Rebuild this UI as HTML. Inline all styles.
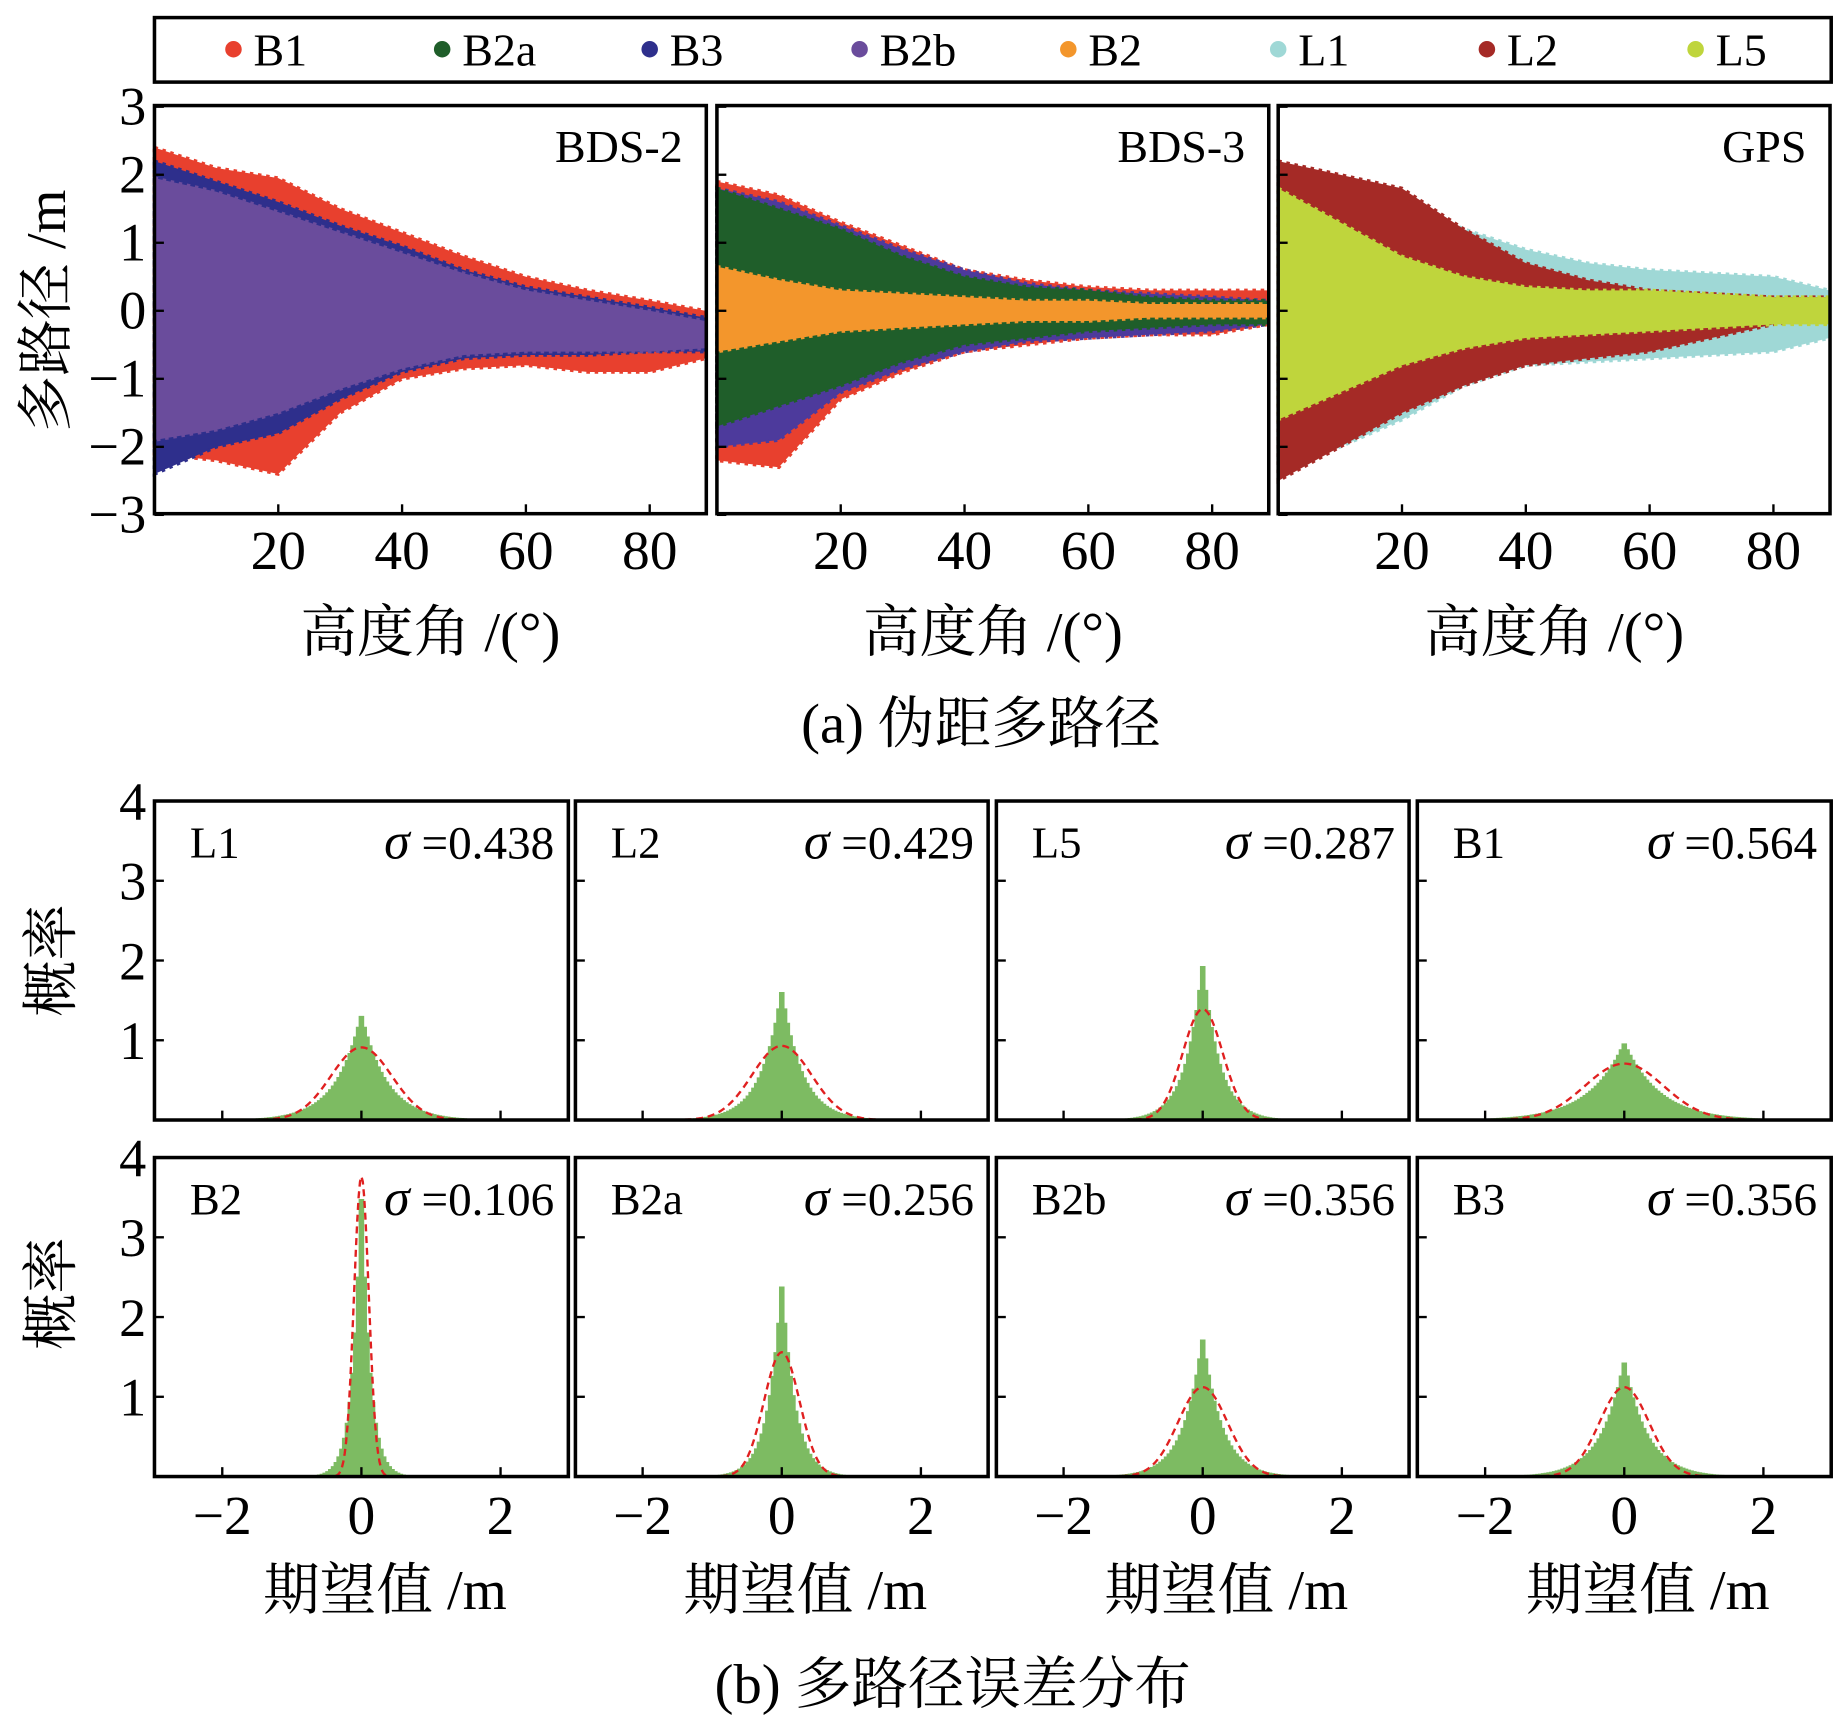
<!DOCTYPE html>
<html><head><meta charset="utf-8"><style>
html,body{margin:0;padding:0;background:#fff;}
svg{display:block;font-family:"Liberation Serif","Noto Serif CJK SC",serif;}
</style></head><body>
<svg id="fig" width="1843" height="1724" viewBox="0 0 1563 1470" preserveAspectRatio="none" xmlns="http://www.w3.org/2000/svg"></svg>
<script>
// ---------- data ----------
const legendNames = ["B1","B2a","B3","B2b","B2","L1","L2","L5"];
const legendColors = ["#e8402e","#1f5e2a","#2e2f8c","#6a4c9c","#f3962c","#9fd8d6","#a52a26","#bfd53c"];
const elev = [0,10,20,30,40,50,60,70,80,89];
// BDS-2 envelopes
const b2_B1_up = [2.4,2.1,1.95,1.5,1.15,0.8,0.5,0.3,0.15,0.0];
const b2_B1_lo = [-2.1,-2.2,-2.4,-1.5,-1.0,-0.85,-0.8,-0.9,-0.9,-0.7];
const b2_B3_up = [2.2,1.9,1.6,1.25,0.95,0.6,0.35,0.2,0.05,-0.1];
const b2_B3_lo = [-2.4,-2.0,-1.8,-1.3,-0.9,-0.7,-0.65,-0.65,-0.6,-0.6];
const b2_B2b_up = [1.95,1.75,1.45,1.15,0.85,0.55,0.3,0.15,0.0,-0.15];
const b2_B2b_lo = [-1.9,-1.75,-1.5,-1.15,-0.85,-0.65,-0.6,-0.6,-0.6,-0.55];
// BDS-3 envelopes
const b3_B1_up = [1.9,1.7,1.3,0.95,0.6,0.45,0.35,0.3,0.3,0.3];
const b3_B1_lo = [-2.2,-2.3,-1.3,-0.9,-0.6,-0.5,-0.4,-0.35,-0.35,-0.2];
const b3_B3_up = [1.8,1.6,1.25,0.9,0.6,0.4,0.3,0.25,0.2,0.15];
const b3_B3_lo = [-2.0,-1.9,-1.2,-0.85,-0.6,-0.45,-0.4,-0.35,-0.3,-0.2];
const b3_B2a_up = [1.8,1.5,1.2,0.8,0.5,0.35,0.3,0.2,0.15,0.15];
const b3_B2a_lo = [-1.7,-1.4,-1.1,-0.75,-0.5,-0.4,-0.3,-0.25,-0.2,-0.2];
const b3_B2_up = [0.65,0.45,0.3,0.25,0.2,0.15,0.15,0.1,0.1,0.1];
const b3_B2_lo = [-0.6,-0.45,-0.3,-0.25,-0.2,-0.15,-0.15,-0.1,-0.1,-0.1];
// GPS envelopes
const gps_L1_up = [2.0,1.9,1.6,1.2,0.9,0.7,0.6,0.55,0.5,0.3];
const gps_L1_lo = [-2.2,-2.0,-1.6,-1.1,-0.8,-0.75,-0.7,-0.65,-0.6,-0.4];
const gps_L2_up = [2.2,2.0,1.8,1.2,0.7,0.45,0.3,0.25,0.2,0.2];
const gps_L2_lo = [-2.5,-2.0,-1.5,-1.1,-0.8,-0.7,-0.6,-0.4,-0.2,-0.1];
const gps_L5_up = [1.8,1.3,0.8,0.5,0.35,0.3,0.3,0.25,0.2,0.2];
const gps_L5_lo = [-1.6,-1.2,-0.8,-0.55,-0.4,-0.35,-0.3,-0.25,-0.2,-0.2];
// distributions
const histNames = ["L1","L2","L5","B1","B2","B2a","B2b","B3"];
const histSigma = [0.438,0.429,0.287,0.564,0.106,0.256,0.356,0.356];
const histPeak = [1.38,1.72,2.1,1.0,4.1,2.65,1.85,1.52];
const yTicksTop = [3,2,1,0,-1,-2,-3];
const xTicksTop = [20,40,60,80];
const yTicksBot = [4,3,2,1];
const xTicksBot = [-2,0,2];

const NS="http://www.w3.org/2000/svg";
const svg=document.getElementById('fig');
function el(tag,attrs,parent,text){const e=document.createElementNS(NS,tag);for(const k in attrs)e.setAttribute(k,attrs[k]);if(text!==undefined)e.textContent=text;(parent||svg).appendChild(e);return e;}

// legend
const lg=el('g',{});


el('rect',{x:131,y:15,width:1422,height:55,fill:'none',stroke:'#000','stroke-width':3},lg);
const lgDotX=[198,375,551,729,906,1084,1261,1438];
legendNames.forEach((n,i)=>{
  const g=el('g',{},lg);
  
  
  el('circle',{cx:lgDotX[i],cy:42,r:7,fill:legendColors[i]},g);
  el('text',{x:lgDotX[i]+17,y:56,'font-size':39},g,n);
});

// top panels
const topPanels=[
 {name:'BDS-2',x0:131,x1:599,series:[[b2_B1_up,b2_B1_lo,'#e8402e'],[b2_B3_up,b2_B3_lo,'#2e2f8c'],[b2_B2b_up,b2_B2b_lo,'#6a4c9c']]},
 {name:'BDS-3',x0:608,x1:1076,series:[[b3_B1_up,b3_B1_lo,'#e8402e'],[b3_B3_up,b3_B3_lo,'#4d3a9c'],[b3_B2a_up,b3_B2a_lo,'#1f5e2a'],[b3_B2_up,b3_B2_lo,'#f3962c']]},
 {name:'GPS',x0:1084,x1:1552,series:[[gps_L1_up,gps_L1_lo,'#9fd8d6'],[gps_L2_up,gps_L2_lo,'#a52a26'],[gps_L5_up,gps_L5_lo,'#bfd53c']]}
];
const tY0=90,tY1=438;
function ty(v){return 265-v*(tY1-tY0)/6;}
topPanels.forEach((p,pi)=>{
  const tx=v=>p.x0+v*5.25;
  const g=el('g',{});
  
  
  p.series.forEach((s,si)=>{
    let pts=elev.map((e,i)=>tx(e)+','+ty(s[0][i]));
    for(let i=elev.length-1;i>=0;i--)pts.push(tx(elev[i])+','+ty(s[1][i]));
    const pg=el('polygon',{points:pts.join(' '),fill:s[2],stroke:s[2],'stroke-width':3,'stroke-dasharray':'3 4'},g);
    
    
  });
  el('rect',{x:p.x0,y:tY0,width:p.x1-p.x0,height:tY1-tY0,fill:'none',stroke:'#000','stroke-width':3},g);
  el('text',{x:p.x1-20,y:138,'font-size':39,'text-anchor':'end'},g,p.name);
  xTicksTop.forEach(t=>{
    el('line',{x1:tx(t),x2:tx(t),y1:tY1,y2:tY1-8,stroke:'#000','stroke-width':2},g);
    el('text',{x:tx(t),y:485,'font-size':47,'text-anchor':'middle'},g,String(t));
  });
  yTicksTop.forEach(t=>{
    el('line',{x1:p.x0,x2:p.x0+8,y1:ty(t),y2:ty(t),stroke:'#000','stroke-width':2},g);
    if(pi===0)el('text',{x:124,y:ty(t)+15,'font-size':46,'text-anchor':'end'},g,t<0?'\u2212'+(-t):String(t));
  });
  const xl=el('text',{x:(p.x0+p.x1)/2,y:555,'font-size':48,'text-anchor':'middle'},undefined,'高度角 /(°)');
  
  
});
const yl=el('text',{transform:'translate(55,265) rotate(-90)','font-size':48,'text-anchor':'middle'},undefined,'多路径 /m');


const ca=el('text',{x:832,y:633,'font-size':48,'text-anchor':'middle'},undefined,'(a) 伪距多路径');



// bottom panels
const colX=[[131,482],[488,838],[845,1195],[1202,1553]];
const rowY=[[683,955],[987,1259]];
histNames.forEach((n,i)=>{
  const r=Math.floor(i/4),c=i%4;
  const [x0,x1]=colX[c],[y0,y1]=rowY[r];
  const cx=(x0+x1)/2, sx=59, sy=68;
  const hx=v=>cx+v*sx, hy=v=>y1-v*sy;
  const g=el('g',{});
  
  
  const b=1/(2*histPeak[i]);
  const w=0.04;
  let d='M'+hx(-3)+','+y1;
  for(let v=-3;v<=3;v+=w){const h=Math.min(histPeak[i],histPeak[i]*Math.exp(-Math.abs(v+w/2)/b));
    d+=' L'+hx(v)+','+hy(h)+' L'+hx(v+w)+','+hy(h);}
  d+=' L'+hx(3)+','+y1+' Z';
  const hp=el('path',{d:d,fill:'#7dbb62'},g);
  
  
  const s=histSigma[i];let gd='';
  for(let v=-3;v<=3.001;v+=0.02){const h=Math.exp(-v*v/(2*s*s))/(s*Math.sqrt(2*Math.PI));
    if(h<0.004)continue; gd+=(gd?' L':'M')+hx(v)+','+hy(h);}
  const gl=el('path',{d:gd,fill:'none',stroke:'#e02020','stroke-width':2,'stroke-dasharray':'6 4'},g);
  
  
  el('rect',{x:x0,y:y0,width:x1-x0,height:y1-y0,fill:'none',stroke:'#000','stroke-width':3},g);
  el('text',{x:x0+30,y:y0+48,'font-size':38},g,n);
  const st=el('text',{x:x1-12,y:y0+49,'font-size':40,'text-anchor':'end'},g);
  el('tspan',{'font-style':'italic','font-size':44},st,'σ');
  el('tspan',{},st,' =' + s.toFixed(3));
  xTicksBot.forEach(t=>{
    el('line',{x1:hx(t),x2:hx(t),y1:y1,y2:y1-8,stroke:'#000','stroke-width':2},g);
    if(r===1)el('text',{x:hx(t),y:1308,'font-size':47,'text-anchor':'middle'},g,t<0?'\u2212'+(-t):String(t));
  });
  yTicksBot.forEach(t=>{
    el('line',{x1:x0,x2:x0+8,y1:hy(t),y2:hy(t),stroke:'#000','stroke-width':2},g);
    if(c===0)el('text',{x:124,y:hy(t)+16,'font-size':46,'text-anchor':'end'},g,String(t));
  });
  if(r===1){const xt=el('text',{x:cx+20,y:1372,'font-size':48,'text-anchor':'middle'},g,'期望值 /m');
    
    }
});
[819,1103].forEach((yc,k)=>{
  const t=el('text',{transform:'translate(60,'+yc+') rotate(-90)','font-size':48,'text-anchor':'middle'},undefined,'概率');
  
  
});
const cb=el('text',{x:808,y:1452,'font-size':48,'text-anchor':'middle'},undefined,'(b) 多路径误差分布');


</script>
</body></html>
